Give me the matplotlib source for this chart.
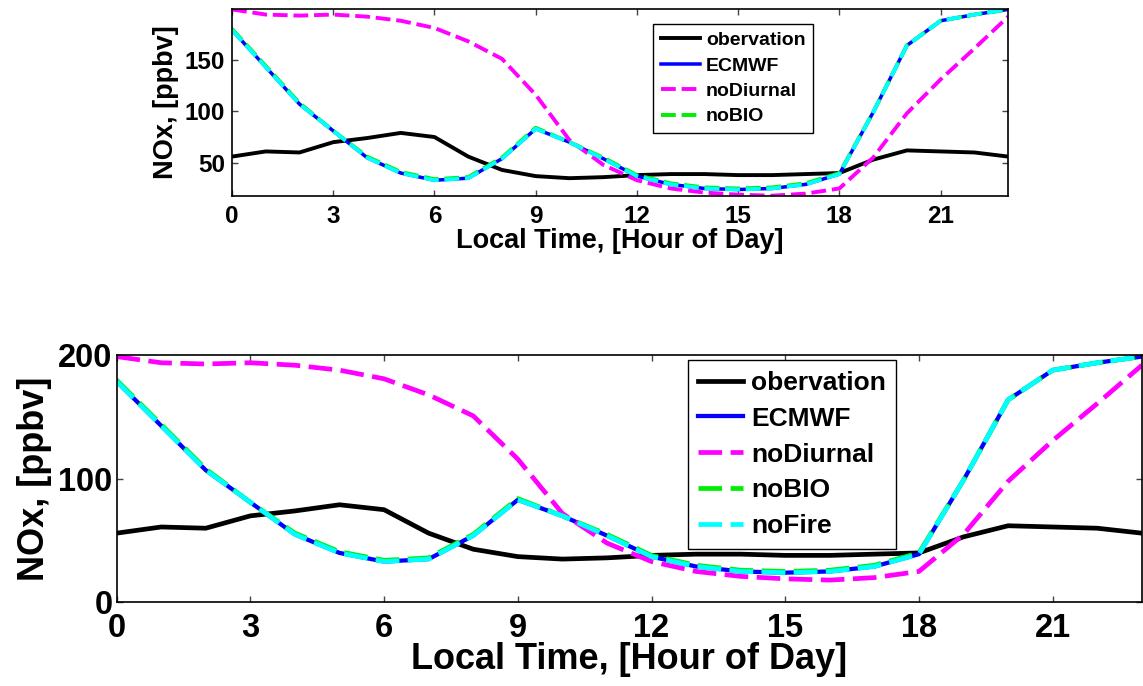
import matplotlib
matplotlib.use("Agg")
import matplotlib.pyplot as plt

plt.rcParams["font.family"] = ["Liberation Sans", "DejaVu Sans"]
plt.rcParams["font.weight"] = "bold"

# NOx diurnal cycle (ppbv), local hour of day
hours = list(range(24))
obs = [56, 61, 60, 70, 74, 79, 75, 56, 43, 37, 35, 36, 38, 39, 39, 38, 38, 39, 40, 53, 62, 61, 60, 56]
ecmwf = [179, 143, 107, 81, 55, 40, 33, 35, 54, 83, 70, 54, 37, 29, 25, 24, 25, 29, 39, 99, 164, 188, 194, 199]
no_diurnal = [199, 194, 193, 194, 192, 188, 181, 168, 151, 116, 72, 48, 33, 25, 21, 19, 18, 20, 25, 55, 98, 131, 161, 192]
no_bio = [180, 144, 108, 81, 56, 41, 34, 36, 55, 84, 70, 55, 38, 30, 26, 25, 26, 30, 40, 99, 164, 188, 194, 199]
no_fire = [179, 143, 107, 81, 55, 40, 33, 35, 54, 83, 70, 54, 37, 29, 25, 24, 25, 29, 39, 99, 164, 188, 194, 199]

xticks = [0, 3, 6, 9, 12, 15, 18, 21]


def draw(ax, lw, dash, tick_fs, lab_fs, leg_fs, with_fire_legend, leg_anchor, handlelen, lspace):
    ax.plot(hours, obs, color="black", lw=lw, label="obervation")
    ax.plot(hours, ecmwf, color="#0000ff", lw=lw * 0.9, label="ECMWF")
    ax.plot(hours, no_diurnal, color="#ff00ff", lw=lw, ls=(0, dash), label="noDiurnal")
    ax.plot(hours, no_bio, color="#00ee00", lw=lw, ls=(0, dash), label="noBIO")
    ax.plot(hours, no_fire, color="#00ffff", lw=lw, ls=(0, dash), label="noFire")
    ax.set_xlim(0, 23)
    ax.set_xticks(xticks)
    ax.tick_params(direction="in", top=True, right=True, length=4, width=1,
                   labelsize=tick_fs, color="#444444")
    for s in ax.spines.values():
        s.set_linewidth(1.2)
    ax.set_xlabel("Local Time, [Hour of Day]", fontsize=lab_fs, fontweight="bold", labelpad=0)
    ax.set_ylabel("NOx, [ppbv]", fontsize=lab_fs, fontweight="bold")
    handles, labels = ax.get_legend_handles_labels()
    if not with_fire_legend:
        handles, labels = handles[:4], labels[:4]
    leg = ax.legend(handles, labels, loc="upper left", bbox_to_anchor=leg_anchor,
                    fontsize=leg_fs, frameon=True, fancybox=False, framealpha=1,
                    edgecolor="black", labelspacing=lspace, handlelength=handlelen,
                    handletextpad=0.3, borderpad=0.4, borderaxespad=0)
    leg.get_frame().set_linewidth(1.0)


fig = plt.figure(figsize=(11.43, 6.86), dpi=100)

ax1 = fig.add_axes([0.203, 0.714, 0.679, 0.273])
draw(ax1, 2.8, (3.8, 1.5), 17.5, 19.5, 14, False, (0.543, 0.92), 2.0, 0.4)
ax1.set_ylim(17.5, 199.5)
ax1.set_yticks([50, 100, 150])
ax1.tick_params(axis="x", pad=6)
ax1.tick_params(axis="y", pad=5)

ax2 = fig.add_axes([0.102, 0.122, 0.897, 0.36])
draw(ax2, 3.4, (5, 1.8), 23.5, 26, 19, True, (0.557, 0.98), 1.7, 0.45)
ax2.set_ylim(0, 200)
ax2.set_yticks([0, 100, 200])
ax2.tick_params(axis="x", pad=8)
ax2.tick_params(axis="y", pad=3)
ax2.xaxis.labelpad = -2

fig.savefig("out.png", dpi=100)
